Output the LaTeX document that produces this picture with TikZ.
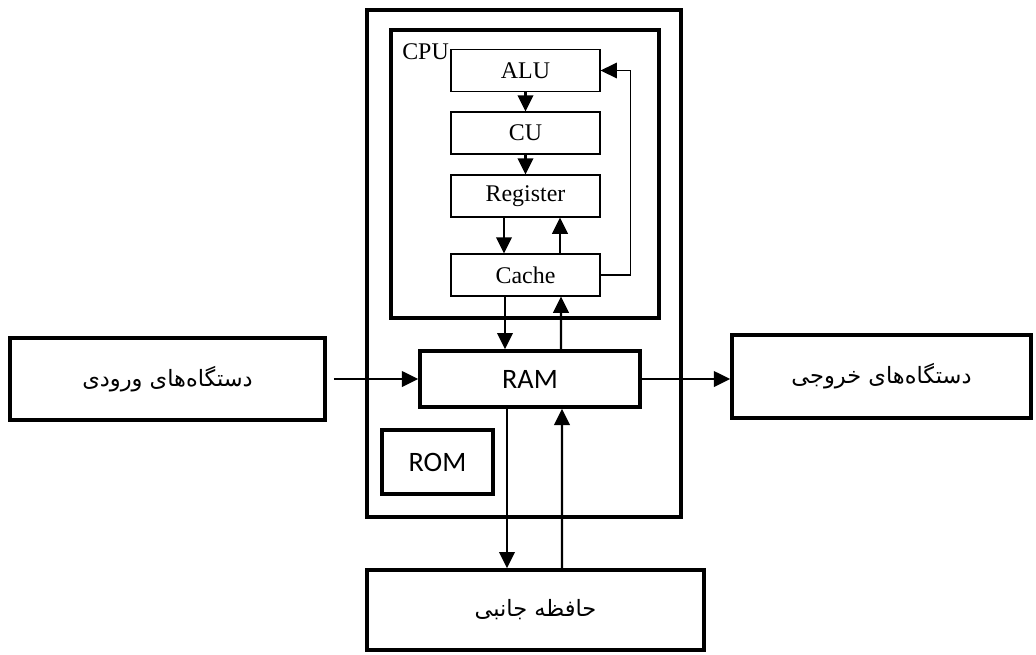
\documentclass[tikz,border=0pt]{standalone}
\usepackage{fontspec}
\setmainfont{Liberation Serif}
\newfontfamily\persianfont[Script=Arabic]{DejaVu Sans}
\newfontfamily\calibrifont{Carlito}
\TeXXeTstate=1
\usetikzlibrary{positioning,arrows.meta,calc}

\begin{document}
\begin{tikzpicture}[
  x=0.025cm, y=-0.025cm,
  unit/.style={draw, line width=0.8pt, font=\fontsize{17}{19}\selectfont,
    minimum width=3.725cm, minimum height=1.05cm, inner sep=0pt},
  bigbox/.style={draw, line width=3.2pt, inner sep=0pt},
  membox/.style={draw, line width=2.6pt, font=\calibrifont\fontsize{20}{23}\selectfont, inner sep=0pt},
  iobox/.style={draw, line width=2.6pt, font=\persianfont\fontsize{16}{18}\selectfont, inner sep=0pt},
  arrow/.style={-{Triangle[length=11.5pt,width=11pt]}, line width=1.5pt},
  loopline/.style={-{Triangle[length=11.5pt,width=11pt]}, line width=1.1pt}
]
\useasboundingbox (0,0) rectangle (1036,654);

% containers
\node[bigbox, minimum width=7.85cm, minimum height=12.675cm] (computer) at (524,263.5) {};
\node[bigbox, minimum width=6.7cm, minimum height=7.2cm] (cpu) at (525,174) {};
\node[anchor=north west, inner sep=0pt, font=\fontsize{17}{19}\selectfont] (cpulabel) at (402,43) {CPU};

% processor units
\node[unit] (alu) at (525.5,70.5) {ALU};
\node[unit] (cu) at (525.5,133) {CU};
\node[unit] (reg) at (525.5,196) {Register};
\node[unit] (cache) at (525.5,275) {Cache};

% memory
\node[membox, minimum width=5.5cm, minimum height=1.4cm] (ram) at (530,379) {RAM};
\node[membox, minimum width=2.775cm, minimum height=1.6cm] (rom) at (437.5,462) {ROM};

% input, output and secondary storage
\node[iobox, minimum width=7.875cm, minimum height=2.05cm] (input) at (167.5,379)
  {\beginR دستگاه‌های ورودی\endR};
\node[iobox, minimum width=7.475cm, minimum height=2.075cm] (output) at (881.5,376.5)
  {\beginR دستگاه‌های خروجی\endR};
\node[iobox, minimum width=8.425cm, minimum height=2cm] (storage) at (535.5,610)
  {\beginR حافظه جانبی\endR};

% inside the cpu
\draw[arrow] (alu) -- (cu);
\draw[arrow] (cu) -- (reg);
\draw[arrow] ($(reg.south)+(-21.5,0)$) -- ($(cache.north)+(-21.5,0)$);
\draw[arrow] ($(cache.north)+(34.5,0)$) -- ($(reg.south)+(34.5,0)$);
\draw[loopline] (cache.east) -- ++(30,0) |- (alu.east);

% cache and ram
\draw[arrow] ($(cache.south)+(-20.5,0)$) -- ($(ram.north)+(-25,0)$);
\draw[arrow] ($(ram.north)+(31,0)$) -- ($(cache.south)+(35.5,0)$);

% ram and the outside
\draw[arrow] ([xshift=5]input.east) -- (ram.west);
\draw[arrow] (ram.east) -- (ram.east -| output.west);
\draw[arrow] ($(ram.south)+(-23,0)$) -- ($(storage.north)+(-28.5,0)$);
\draw[arrow] ($(storage.north)+(26.5,0)$) -- ($(ram.south)+(32,0)$);
\end{tikzpicture}
\end{document}
